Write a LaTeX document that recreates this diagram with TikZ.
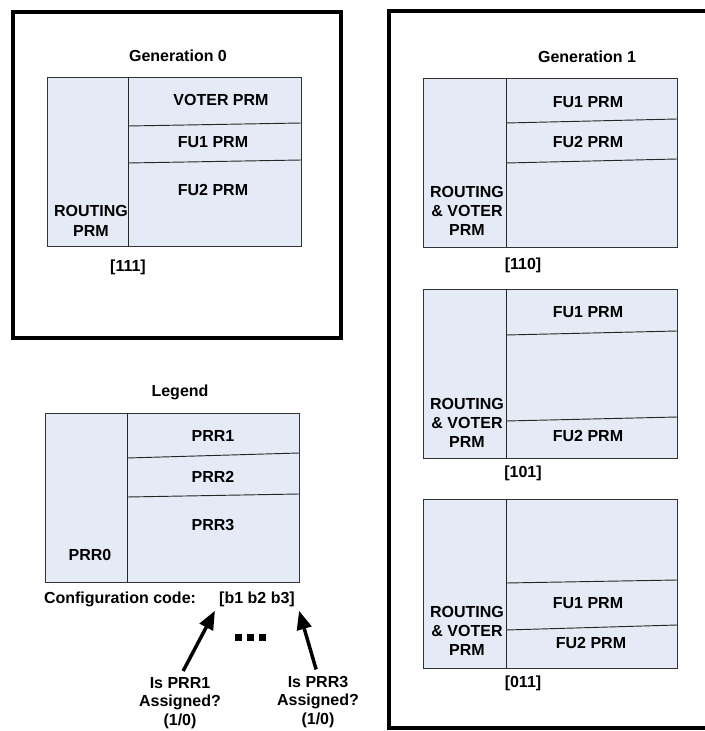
\documentclass[tikz,border=0pt]{standalone}
\usepackage{fontspec}
\setmainfont{Liberation Sans}
\usepackage{tikz}
\usetikzlibrary{positioning, arrows.meta, calc}
\definecolor{cF}{RGB}{229,235,246}

\begin{document}
\begin{tikzpicture}[x=0.75pt, y=-0.75pt, font=\bfseries\fontsize{12}{14.5}\selectfont,
                    frame/.style={draw=black, line width=2.6pt},
                    cell/.style={draw=black!80, fill=cF, line width=0.7pt},
                    sep/.style={draw=black!85, line width=0.7pt},
                    lbl/.style={inner sep=1pt, align=center},
                    ask/.style={lbl, inner sep=0pt, font=\bfseries\fontsize{12}{14}\selectfont},
                    arr/.style={-{Triangle[length=14pt, width=11pt]}, line width=2.6pt, shorten <=5pt}]

    \clip (0,0) rectangle (705,731);

    % Outer Frames
    \draw[frame] (13,12)  rectangle (341,338);
    \draw[frame] (389,11) rectangle (716,728);

    % Generation 0
    \node[lbl] (G0) at (178,56) {Generation 0};
    \draw[cell] (47,77) rectangle (301,246);
    \draw[sep] (128,77) -- (128,246);
    \draw[sep] (128,126) -- (301,123);
    \draw[sep] (128,163) -- (301,160);
    \node[lbl] (G0voter) at (221,100) {VOTER PRM};
    \node[lbl] (G0fu1)   at (213,142) {FU1 PRM};
    \node[lbl] (G0fu2)   at (213,190) {FU2 PRM};
    \node[lbl] (G0rout)  at (91,221)  {ROUTING\\PRM};
    \node[lbl] (G0code)  at (128,267) {[111]};

    % Legend
    \node[lbl] (Leg) at (180,392) {Legend};
    \draw[cell] (45,413) rectangle (299,582);
    \draw[sep] (127,413) -- (127,582);
    \draw[sep] (127,458) -- (299,453);
    \draw[sep] (127,497) -- (299,494);
    \node[lbl] (PRR1) at (213,436) {PRR1};
    \node[lbl] (PRR2) at (213,477) {PRR2};
    \node[lbl] (PRR3) at (213,525) {PRR3};
    \node[lbl] (PRR0) at (90,555)  {PRR0};
    \node[lbl] (conf) at (120,599) {Configuration code:};
    \node[lbl, inner sep=3pt] (code) at (257,599) {[b1 b2 b3]};
    \foreach \x in {238,250,262}
        \fill (\x-3.5,633.5) rectangle (\x+3.5,640.5);
    \node[ask] (Q1) at (180,703) {Is PRR1\\Assigned?\\(1/0)};
    \node[ask] (Q3) at (318,702) {Is PRR3\\Assigned?\\(1/0)};
    \draw[arr] (Q1.north) -- (code.south west);
    \draw[arr] (Q3.north) -- (code.south east);

    % Generation 1
    \node[lbl] (G1) at (587,57) {Generation 1};

    \draw[cell] (423,78) rectangle (677,247);
    \draw[sep] (506,78) -- (506,247);
    \draw[sep] (506,123) -- (677,119);
    \draw[sep] (506,163) -- (677,159);
    \node[lbl] (A fu1)  at (588,102) {FU1 PRM};
    \node[lbl] (A fu2)  at (588,142) {FU2 PRM};
    \node[lbl] (A rout) at (467,211) {ROUTING\\\&~VOTER\\PRM};
    \node[lbl] (A code) at (523,265) {[110]};

    \draw[cell] (423,289) rectangle (677,458);
    \draw[sep] (506,289) -- (506,458);
    \draw[sep] (506,335) -- (677,331);
    \draw[sep] (506,421) -- (677,417);
    \node[lbl] (B fu1)  at (588,312) {FU1 PRM};
    \node[lbl] (B fu2)  at (588,436) {FU2 PRM};
    \node[lbl] (B rout) at (467,423) {ROUTING\\\&~VOTER\\PRM};
    \node[lbl] (B code) at (523,473) {[101]};

    \draw[cell] (423,499) rectangle (677,668);
    \draw[sep] (506,499) -- (506,668);
    \draw[sep] (506,583) -- (677,580);
    \draw[sep] (506,630) -- (677,625);
    \node[lbl] (C fu1)  at (588,603) {FU1 PRM};
    \node[lbl] (C fu2)  at (591,643) {FU2 PRM};
    \node[lbl] (C rout) at (467,631) {ROUTING\\\&~VOTER\\PRM};
    \node[lbl] (C code) at (523,683) {[011]};
\end{tikzpicture}
\end{document}
